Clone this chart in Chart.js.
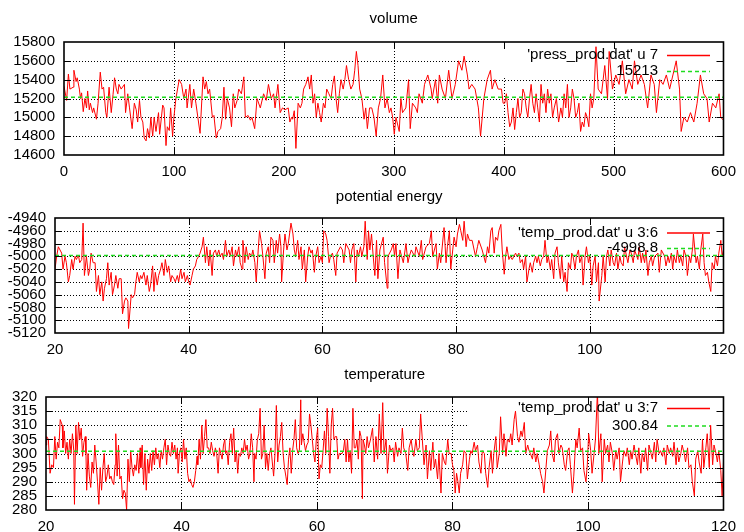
<!DOCTYPE html>
<html><head><meta charset="utf-8">
<script src="https://cdn.jsdelivr.net/npm/chart.js@4.4.0/dist/chart.umd.min.js"></script>
<style>
html,body{margin:0;padding:0;background:#fff;}
body{width:744px;height:532px;position:relative;overflow:hidden;}
canvas{position:absolute;left:0;}
</style></head><body>
<canvas id="c1" width="744" height="180" style="top:0px"></canvas>
<canvas id="c2" width="744" height="180" style="top:180px"></canvas>
<canvas id="c3" width="744" height="172" style="top:360px"></canvas>
<script>
// ---------- data ----------
const titles = ["volume", "potential energy", "temperature"];
const seriesLabels = ["'press_prod.dat' u 7", "'temp_prod.dat' u 3:6", "'temp_prod.dat' u 3:7"];
const means = [15213, -4998.8, 300.84];

const volumeXTicks = [0,100,200,300,400,500,600];
const volumeYTicks = [14600,14800,15000,15200,15400,15600,15800];
const energyXTicks = [20,40,60,80,100,120];
const energyYTicks = [-5120,-5100,-5080,-5060,-5040,-5020,-5000,-4980,-4960,-4940];
const tempXTicks = [20,40,60,80,100,120];
const tempYTicks = [280,285,290,295,300,305,310,315,320];

const volumePoints = [[0,15330],[2.4,15180],[4,15460],[5.4,15300],[8.4,15320],[9,15500],[11,15380],[12,15420],[14,15300],[15,15200],[16,15260],[17.5,15060],[19,15200],[20.5,15100],[21.5,15280],[23,15080],[24,15150],[26,15050],[27,15100],[29.5,14980],[31,15150],[33,15480],[34.6,15300],[36,15320],[38,15050],[39,15000],[41,15320],[43,15050],[44.6,15240],[46,15420],[47.6,15300],[49,15250],[50,15350],[52,15300],[55,15350],[56,15050],[58,15250],[59.6,15100],[62,14880],[64,15150],[65.7,15080],[67,14950],[68.7,15180],[70,15000],[71.7,14950],[73,14780],[74.7,14750],[76,14880],[77.7,14780],[79,15000],[80.7,14800],[82,15000],[83.7,14850],[86,15050],[87,14820],[89.8,15130],[91,15100],[92.8,14700],[94,14900],[95.8,14860],[97,15100],[98.8,14800],[100,15000],
[101.8,15200],[104.8,15400],[107,15350],[109,15200],[111,15300],[112,15100],[114.5,15350],[116,15100],[118,15300],[120,15150],[123.8,14830],[126.5,15430],[128,15300],[129.5,15380],[131,15250],[132.5,15300],[135,15000],[136.4,15020],[138.5,14780],[140,14850],[142.5,14880],[144,15000],[145.5,15320],[147,14980],[148.5,15200],[150.6,15100],[152.4,14900],[154,15250],[155.4,15100],[157.5,15180],[159,15300],[161.4,15250],[163.6,15430],[165,15000],[167.5,15020],[169.6,14970],[171,15000],[173.5,14880],[175.6,15200],[178.6,15100],[181.6,15250],[184,15180],[186,15350],[188.5,15200],[190.7,15250],[192,15100],[194.6,15350],[196.7,15050],[198.8,15100],[201,15080],
[204,15100],[205.5,14950],[207,15000],[208,14980],[209.5,15070],[211,14670],[213,15150],[215,15100],[216.5,15150],[218,15300],[220,15350],[222,15430],[223.5,15300],[225,15450],[226.5,15150],[228,15250],[229.5,15000],[231,15150],[232.5,15050],[234,14950],[236,15150],[237.5,15100],[239,15300],[241,15250],[243,15200],[244.5,15350],[246,15440],[247.5,15200],[249,15050],[250.5,15250],[252,15400],[254,15300],[255.5,15400],[257,15550],[259,15400],[261,15300],[263,15350],[264.5,15500],[266,15700],[267.5,15550],[269,15300],[271,15200],[273,14980],[274.5,15100],[276,14880],[278,15100],
[280,15100],[282,15000],[284,14800],[286,15100],[288,15200],[290,15450],[292,15100],[294,15200],[296,15050],[297.5,15100],[299,15000],[300.5,14820],[302,15000],[305,14850],[306.5,15200],[308,15050],[311,15100],[313.5,15400],[315,14880],[317,15150],[320,15100],[321.5,15050],[323,15250],[326,15150],[328,15350],[331,15450],[334,15300],[335,15200],[338,15400],[340,15150],[341.5,15450],[344,15300],[347,15200],[350,15500],[353,15200],[356,15350],[359,15600],[362,15500],[364,15650],[367,15450],[368.5,15300],[371,15350],[374,15300],[377,15100],[379,14800],[382,15200],[385,15400],[388,15500],[389.5,15300],[392,15400],[395,15300],[398,15300],[399.5,15150],[401,15150],[402.5,15250],[404,15050],[405.5,14900],[407,14950],[408.5,15100],[410,14870],[411.5,15050],[413,15200],[414.5,15000],[416,15050],[417.5,15300],[419,15250],[420.5,15100],[422,15000],[423.5,15200],[425,15350],[426.5,15150],[428,15050],[429.5,15250],[431,15100],[432.5,14950],[434,15350],[435.5,15150],[437,15250],[438.5,15050],[440,15300],[441.5,15150],[443,15250],[444.5,15000],[446,15100],[448,15200],[450,14950],[452,15100],[453.5,15000],[455,15250],[456.5,15100],[458,15350],[459.5,15000],[461,15100],[462.5,15300],[464,15200],[465.5,15000],[467,15050],[468.5,15150],[470,14850],[471.5,14950],[473,14900],[474.5,15050],[476,15000],[477.5,14900],[479,15250],[480.5,15100],[482,15200],[484,15750],[486,15300],[489,15250],[492,15550],[494.5,15200],[496,15700],[499,15300],[502,15450],[505,15350],[508,15600],[511,15250],[514,15400],[517,15300],[519,15600],[522,15350],[525,15450],[528,15350],[531,15100],[534,15450],[537,15350],[539,15050],[542,15400],[545,15350],[548,15450],[551,15300],[554,15450],[557,15600],[560,15300],[561.5,14850],[564,15000],[567,14950],[570,15050],[573,14950],[576,15150],[579,15450],[582,15250],[585,15200],[587,14950],[590,15150],[593,15100],[596,15250],[597.5,15000],[600,14970]];

const energyPoints = [[20,-5020],[20.25,-5000],[20.5,-4985],[20.75,-4990],[21,-4995],[21.2,-5020],[21.5,-5000],[21.7,-5010],[22,-5040],[22.2,-5030],[22.5,-5005],[22.7,-5020],[23,-5000],[23.2,-5005],[23.5,-4998],[23.7,-5010],[24,-5005],[24.2,-4948],[24.4,-5030],[24.7,-5000],[25,-5030],[25.2,-5020],[25.4,-4995],[25.7,-5010],[26,-5010],[26.2,-5055],[26.5,-5030],[26.7,-5060],[27,-5040],[27.2,-5070],[27.4,-5050],[27.7,-5035],[27.9,-5010],[28.1,-5045],[28.4,-5025],[28.6,-5060],[28.9,-5045],[29.1,-5030],[29.4,-5050],[29.6,-5035],[29.9,-5035],[30.1,-5090],[30.4,-5070],[30.6,-5065],[30.9,-5070],[31,-5113],[31.4,-5060],[31.6,-5065],[31.9,-5060],[32.1,-5040],[32.3,-5025],[32.6,-5040],[32.8,-5030],[33,-5035],[33.3,-5025],[33.6,-5045],[33.8,-5030],[34.1,-5055],[34.3,-5045],[34.6,-5015],[34.8,-5055],[35,-5025],[35.3,-5045],[35.5,-5030],[35.8,-5020],[36,-5010],[36.3,-5030],[36.5,-5005],[36.8,-5025],[37,-5015],[37.3,-5040],[37.5,-5030],[37.8,-5035],[38,-5040],[38.3,-5030],[38.5,-5040],[38.8,-5020],[39,-5035],[39.3,-5025],[39.5,-5040],[39.8,-5030],[40,-5040],[40.2,-5045],[40.5,-5030],[40.7,-5020],[41,-5015],[41.2,-5005],[41.5,-5000],[41.7,-4995],[42,-4985],[42.2,-4970],[42.5,-5010],[42.7,-4985],[43,-5015],[43.2,-4990],[43.5,-5030],[43.7,-4995],[44,-4990],[44.2,-5000],[44.5,-4990],[44.7,-5000],[45,-4995],[45.2,-5005],[45.5,-4975],[45.7,-5000],[46,-4990],[46.2,-5000],[46.5,-4985],[46.7,-5015],[47,-4990],[47.2,-5000],[47.5,-4985],[47.7,-5010],[48,-5020],[48.1,-4975],[48.4,-5010],[48.6,-4985],[48.9,-5005],[49.1,-4995],[49.4,-5000],[49.6,-4990],[49.9,-5010],[50.1,-5040],[50.4,-4990],[50.6,-4960],[50.9,-4980],[51.1,-5000],[51.4,-5035],[51.6,-4995],[51.9,-4985],[52.1,-5010],[52.3,-4970],[52.6,-4975],[52.8,-5010],[53.1,-4975],[53.3,-4995],[53.6,-4965],[53.8,-4985],[53.9,-5040],[54.2,-4990],[54.4,-4965],[54.7,-4990],[54.9,-4980],[55.3,-4948],[55.6,-4965],[55.8,-4990],[56,-5000],[56.3,-4975],[56.5,-5005],[56.8,-4985],[57,-5020],[57.3,-4990],[57.5,-5040],[57.8,-5000],[58,-4985],[58.3,-4995],[58.5,-4990],[58.8,-5025],[59,-5000],[59.3,-4985],[59.5,-5010],[59.8,-5000],[60,-5010],[60.2,-4960],[60.5,-4965],[60.7,-4975],[61,-5010],[61.2,-5000],[61.5,-4995],[61.7,-5005],[62,-5030],[62.2,-4995],[62.7,-4985],[63,-4990],[63.2,-5010],[63.5,-4980],[64,-4990],[64.2,-5010],[64.4,-4990],[64.7,-4980],[65,-5040],[65.2,-4990],[65.4,-5000],[65.7,-4985],[65.9,-5000],[66.2,-4985],[66.4,-4945],[66.7,-5005],[66.9,-4960],
[67.1,-4990],[67.35,-4965],[67.6,-5000],[67.85,-5030],[68.1,-4975],[68.3,-5035],[68.6,-4990],[69.1,-4970],[69.3,-5010],[69.7,-5050],[69.8,-5000],[70.3,-4990],[70.6,-4980],[70.8,-5000],[71,-4980],[71.3,-5035],[71.6,-4990],[72.1,-5010],[72.5,-4980],[72.8,-5010],[73,-5000],[73.3,-4990],[73.8,-5000],[74,-4985],[74.5,-5000],[74.8,-4975],[75,-5005],[75.5,-4985],[76,-4980],[76.3,-4960],[76.5,-5000],[77,-4980],[77.2,-5020],[77.5,-4995],[77.7,-5010],[78.2,-4955],[78.5,-5010],[78.7,-4985],[79,-4960],[79.2,-5020],[79.5,-4990],[79.7,-4970],[80,-4985],[80.2,-4965],[80.5,-4950],[80.7,-4960],[81,-4975],[81.2,-4945],[81.5,-4985],[81.7,-4965],[82,-4975],[82.4,-4975],[82.9,-5000],[83.2,-4985],[83.4,-4975],[83.9,-4990],[84.4,-5010],[84.7,-4985],[84.9,-4995],[85.2,-4960],[85.4,-4955],[85.7,-4995],[85.9,-4970],[86.2,-4975],[86.4,-4960],[86.7,-4950],[86.9,-4990],[87.2,-5028],[87.4,-5000],[87.6,-4985],[87.9,-5005],[88.1,-5000],[88.4,-5005],[88.9,-4995],[89.1,-5000],[89.4,-4995],[89.6,-5010],[89.9,-5005],[90.1,-5020],[90.4,-5000],[90.6,-5040],[90.9,-5020],[91.1,-5010],[91.4,-5025],[91.6,-5010],[91.9,-5000],[92.1,-5010],[92.3,-5000],[92.6,-5015],[92.8,-5005],[93.1,-5000],[93.3,-4975],[93.6,-5010],[93.8,-5000],[94.1,-5020],[94.3,-5005],[94.6,-5035],[94.8,-4995],[95.1,-4985],[95.3,-5010],[95.6,-5035],[95.8,-5000],[96.1,-5040],[96.3,-5025],[96.6,-5055],[96.8,-5010],[97.1,-5020],[97.3,-4995],[97.5,-5000],[97.8,-5020],[98,-5000],[98.3,-4990],[98.5,-5010],[98.8,-5000],[99,-5045],[99.3,-5000],[99.5,-4985],[99.8,-5010],[100,-5000],[100.3,-5045],[100.5,-5015],[100.8,-5000],[101,-5040],[101.3,-5010],[101.4,-5070],[101.8,-5030],[102,-5000],[102.3,-5040],[102.5,-5000],[102.7,-4990],[103,-5015],[103.2,-4990],[103.5,-5010],[103.7,-5015],[104,-4995],[104.2,-5020],[104.5,-5000],[104.7,-5010],[105,-5015],[105.2,-4985],[105.7,-5010],[106,-4990],[106.2,-4995],[106.5,-5010],[106.7,-4990],[107.2,-5005],[107.4,-4985],[107.7,-5010],[107.9,-4995],[108.2,-5010],[108.4,-4990],[108.7,-5030],[108.9,-5010],[109.2,-5000],[109.4,-5015],[109.7,-5000],[110.2,-4995],[110.4,-5025],[110.7,-4990],[111.2,-5000],[111.4,-5015],[111.7,-5000],[111.9,-5010],[112.2,-4995],[112.4,-5020],[112.6,-5000],[112.9,-5010],[113.1,-4990],[113.4,-5010],[113.6,-5000],[113.9,-5015],[114.1,-4990],[114.4,-5000],[114.6,-5030],[114.9,-5000],[115.1,-5010],[115.4,-4985],[115.5,-4965],[115.9,-5010],[116.1,-5000],[116.4,-5020],[116.6,-4990],[116.9,-4965],[117.1,-5010],[117.3,-5030],[117.6,-5025],[117.8,-5040],[118.1,-5055],[118.3,-5010],[118.6,-5020],[118.8,-5000],[119.1,-5015],[119.3,-4995],[119.6,-4975],[119.8,-5000],[120,-4990]];

const tempPoints = [[20,303],[20.1,306],[20.35,305],[20.6,293],[20.85,296],[21.1,295],[21.3,306],[21.5,298],[21.7,304],[21.9,302],[22.1,312],[22.4,310],[22.5,302],[22.7,308],[22.9,300],[23.1,304],[23.3,298],[23.5,305],[23.7,300],[23.9,307],[24.1,301],[24.2,282],[24.4,310],[24.6,300],[24.8,311],[25,305],[25.2,309],[25.4,299],[25.6,304],[25.8,306],[25.9,300],[26,287],[26.2,300],[26.4,292],[26.6,288],[26.8,297],[27,293],[27.2,303],[27.4,297],[27.6,290],[27.8,282],[28,295],[28.2,287],[28.4,295],[28.6,300],[28.8,290],[29,292],[29.2,296],[29.4,291],[29.6,292],[29.8,290],[30,289],[30.2,296],[30.3,307],[30.5,292],[30.7,303],[30.9,291],[31.1,292],[31.3,284],[31.5,287],[31.7,286],[31.9,280],[32.1,298],[32.3,290],[32.5,301],[32.7,295],[32.9,292],[33.1,296],[33.3,294],[33.5,300],[33.7,293],[33.9,302],[34,295],[34.2,303],[34.4,289],[34.6,300],[34.8,287],[35,298],[35.2,293],[35.4,300],[35.6,294],[35.8,301],[36,296],[36.2,302],[36.4,298],[36.6,300],[36.8,295],[37,301],[37.2,298],[37.4,302],[37.6,305],[37.8,296],[38,303],[38.2,300],[38.4,299],[38.6,304],[38.8,300],[39,303],[39.2,298],[39.4,302],[39.5,293],[39.7,300],[39.9,302],[40.1,297],[40.3,305],[40.5,298],[40.7,302],[40.9,293],[41.1,290],[41.3,291],[41.5,289],[41.7,288],[41.9,290],[42.1,294],[42.3,299],[42.4,296],[42.6,305],[42.8,298],[43,310],[43.2,300],[43.4,306],[43.6,312],[43.8,302],[44,302],[44.2,300],[44.4,304],[44.6,301],[44.8,299],[45,302],[45.2,300],[45.4,293],[45.6,302],[45.8,300],[46,298],[46.2,303],[46.4,305],[46.5,300],[46.7,301],[46.9,296],[47.1,304],[47.3,307],[47.5,300],[47.7,309],[47.9,297],[48.1,301],[48.3,293],[48.5,300],[48.7,299],[48.9,302],[49.1,300],[49.3,305],[49.5,301],[49.7,303],[49.9,298],[50.1,300],[50.3,307],[50.5,302],[50.7,290],[50.8,300],[51,298],[51.2,305],[51.4,307],[51.6,316],[51.8,298],[52,300],[52.2,310],[52.4,295],[52.6,300],[52.8,294],[53,300],[53.2,302],[53.4,297],[53.6,292],[53.8,300],[54,317],[54.2,297],[54.4,303],[54.6,306],[54.8,311],[55,300],[55.2,295],[55.4,292],[55.6,289],[55.8,298],[56,302],[56.2,293],[56.4,301],[56.6,305],[56.8,312],[57,302],[57.2,300],[57.4,301],[57.6,319],[57.7,303],[57.9,307],[58.1,304],[58.3,301],[58.5,303],[58.7,304],[58.9,314],[59.1,310],[59.3,305],[59.5,300],[59.7,297],[59.9,305],[60.1,309],[60.3,291],[60.5,296],[60.7,295],[60.9,301],[61.1,308],[61.3,300],[61.5,316],[61.7,306],[61.9,293],[62.1,310],[62.3,316],[62.5,305],[62.7,306],[62.9,306],[63.1,298],[63.3,300],[63.5,300],[63.7,300],[63.9,301],[64.1,305],[64.3,297],[64.5,305],[64.7,297],[64.9,301],[65.1,293],[65.3,316],[65.5,302],[65.7,302],[65.9,305],[66.1,298],[66.3,308],[66.5,306],[66.7,284],[66.8,305],[67,303],[67.2,300],[67.4,306],[67.6,302],[67.9,305],
[68.2,309],[68.45,297],[68.7,306],[68.95,298],[69.2,314],[69.45,300],[69.7,318],[69.9,300],[70.2,305],[70.4,293],[70.7,303],[70.9,301],[71.2,302],[71.4,297],[71.6,304],[71.9,299],[72.1,302],[72.4,300],[72.6,309],[72.8,302],[73.1,300],[73.4,294],[73.6,302],[73.9,305],[74.1,301],[74.3,299],[74.6,305],[74.8,301],[75.1,302],[75.3,314],[75.6,303],[75.8,296],[76.1,303],[76.3,291],[76.6,301],[76.8,294],[77.1,304],[77.3,295],[77.5,298],[77.8,291],[78,300],[78.3,286],[78.5,300],[78.8,297],[79,296],[79.3,305],[79.5,300],[79.8,300],[80,296],[80.2,294],[80.4,286],[80.6,293],[80.8,290],[81,286],[81.2,293],[81.5,296],[81.7,301],[82,300],[82.2,291],[82.5,298],[82.7,301],[82.9,300],[83.2,304],[83.4,301],[83.7,303],[83.9,297],[84.2,293],[84.4,301],[84.7,300],[84.9,293],[85.2,288],[85.4,295],[85.7,301],[85.9,293],[86.1,300],[86.4,306],[86.6,295],[86.9,300],[87.1,313],[87.4,300],[87.6,307],[87.9,299],[88.1,305],[88.4,304],[88.6,307],[88.8,303],[89.1,312],[89.3,315],[89.6,306],[89.8,304],[90.1,308],[90.3,306],[90.6,311],[90.8,300],[91.1,303],[91.3,301],[91.5,300],[91.8,298],[92,302],[92.3,297],[92.5,300],[92.8,296],[93,293],[93.3,290],[93.5,286],[93.8,295],[94,301],[94.3,303],[94.5,308],[94.7,300],[95,297],[95.2,305],[95.5,307],[95.7,300],[96,303],[96.2,302],[96.5,296],[96.7,294],[97,301],[97.2,302],[97.4,296],[97.7,286],[97.9,292],[98.2,305],[98.4,302],[98.7,309],[98.9,301],[99.2,302],[99.4,294],[99.7,290],[99.9,296],[100.1,307],[100.4,301],[100.6,293],[100.9,300],[101.1,305],[101.4,322],[101.6,300],[101.9,307],[102.1,290],[102.4,305],[102.6,300],[102.9,303],[103.1,297],[103.3,304],[103.6,300],[103.8,294],[104.1,301],[104.3,298],[104.6,302],[104.8,290],[105.1,297],[105.3,301],[105.6,299],[105.8,302],[106.1,296],[106.3,301],[106.5,298],[106.8,303],[107,300],[107.3,296],[107.5,302],[107.8,293],[108,300],[108.3,297],[108.5,302],[108.8,294],[109,303],[109.3,300],[109.5,298],[109.8,304],[110,297],[110.2,305],[110.5,300],[110.7,301],[111,299],[111.2,302],[111.5,296],[111.7,303],[112,300],[112.2,302],[112.5,299],[112.7,304],[113,296],[113.2,302],[113.4,297],[113.7,300],[113.9,303],[114.2,300],[114.4,297],[114.7,302],[114.9,295],[115.2,296],[115.4,290],[115.7,285],[115.9,298],[116.2,301],[116.4,297],[116.7,293],[116.9,305],[117.1,295],[117.4,302],[117.6,307],[117.9,295],[118.1,310],[118.4,296],[118.6,303],[118.9,300],[119.1,297],[119.3,301],[119.6,294],[119.8,285],[120,297]];

// ---------- drawing ----------
const FONT = '"Liberation Sans", Arial, Helvetica, sans-serif';
Chart.defaults.font.family = FONT;
Chart.defaults.font.size = 15;
Chart.defaults.color = '#000';
const RED = '#ff0000', GREEN = '#1fdc1f';

function gnuplotLook(p) {
  return {
    id: 'gnuplotLook' + p.canvas,
    beforeDatasetsDraw(chart) {
      const {ctx, chartArea: a, scales: {x, y}} = chart;
      ctx.save();
      ctx.strokeStyle = '#000'; ctx.lineWidth = 1; ctx.setLineDash([1, 2]);
      ctx.beginPath();
      p.xTicks.slice(1, -1).forEach(v => {
        const px = Math.round(x.getPixelForValue(v)) + 0.5;
        ctx.moveTo(px, a.top); ctx.lineTo(px, a.bottom);
      });
      p.yTicks.slice(1, -1).forEach(v => {
        const py = Math.round(y.getPixelForValue(v)) + 0.5;
        ctx.moveTo(a.left, py); ctx.lineTo(a.right, py);
      });
      ctx.stroke();
      ctx.setLineDash([]);
      ctx.fillStyle = '#fff';
      ctx.fillRect(p.key[0], a.top + 1, p.key[1] - p.key[0], p.key[2] - a.top - 1);
      ctx.restore();
    },
    afterDatasetsDraw(chart) {
      const {ctx, chartArea: a, scales: {x, y}} = chart;
      ctx.save();
      ctx.strokeStyle = '#000'; ctx.lineWidth = 1; ctx.setLineDash([]);
      ctx.beginPath();
      const T = 7;
      p.xTicks.slice(1, -1).forEach(v => {
        const px = Math.round(x.getPixelForValue(v)) + 0.5;
        ctx.moveTo(px, a.bottom); ctx.lineTo(px, a.bottom - T);
        ctx.moveTo(px, a.top); ctx.lineTo(px, a.top + T);
      });
      p.yTicks.slice(1, -1).forEach(v => {
        const py = Math.round(y.getPixelForValue(v)) + 0.5;
        ctx.moveTo(a.left, py); ctx.lineTo(a.left + T, py);
        ctx.moveTo(a.right, py); ctx.lineTo(a.right - T, py);
      });
      ctx.stroke();
      ctx.lineWidth = 1.6;
      ctx.strokeRect(a.left, a.top, a.right - a.left, a.bottom - a.top);
      // title
      ctx.fillStyle = '#000';
      ctx.font = '15px ' + FONT;
      ctx.textAlign = 'center'; ctx.textBaseline = 'middle';
      ctx.fillText(p.title, (a.left + a.right) / 2, p.titleY);
      // key
      ctx.textAlign = 'right';
      ctx.fillText(p.label, 658, p.keyY[0]);
      ctx.fillText(String(p.mean), 658, p.keyY[1]);
      ctx.lineWidth = 1.3;
      ctx.strokeStyle = RED;
      ctx.beginPath(); ctx.moveTo(667, p.keyY[0] + 0.5); ctx.lineTo(710, p.keyY[0] + 0.5); ctx.stroke();
      ctx.strokeStyle = GREEN; ctx.lineWidth = 1.5; ctx.setLineDash([4, 3]);
      ctx.beginPath(); ctx.moveTo(667, p.keyY[1] + 0.5); ctx.lineTo(710, p.keyY[1] + 0.5); ctx.stroke();
      ctx.restore();
    }
  };
}

function panel(p) {
  const canvas = document.getElementById(p.canvas);
  const H = canvas.height;
  const xMin = p.xTicks[0], xMax = p.xTicks[p.xTicks.length - 1];
  const yMin = p.yTicks[0], yMax = p.yTicks[p.yTicks.length - 1];
  return new Chart(canvas, {
    type: 'line',
    data: {
      datasets: [
        {data: [{x: xMin, y: p.mean}, {x: xMax, y: p.mean}], borderColor: GREEN, borderWidth: 1.5, borderDash: [4, 3], pointRadius: 0},
        {data: p.points.map(q => ({x: q[0], y: q[1]})), borderColor: RED, borderWidth: 1, pointRadius: 0, tension: 0}
      ]
    },
    options: {
      responsive: false, animation: false, events: [],
      layout: {padding: {left: 0, top: p.top, right: 744 - p.right, bottom: 0}},
      plugins: {legend: {display: false}, title: {display: false}, tooltip: {enabled: false}},
      scales: {
        x: {
          type: 'linear', min: xMin, max: xMax,
          afterBuildTicks: s => { s.ticks = p.xTicks.map(v => ({value: v})); },
          afterFit: s => { s.height = H - p.bottom; },
          grid: {display: false, drawTicks: false}, border: {display: false},
          ticks: {color: '#000', padding: 8, maxRotation: 0, autoSkip: false, callback: v => String(v)}
        },
        y: {
          type: 'linear', min: yMin, max: yMax,
          afterBuildTicks: s => { s.ticks = p.yTicks.map(v => ({value: v})); },
          afterFit: s => { s.width = p.left; },
          grid: {display: false, drawTicks: false}, border: {display: false},
          ticks: {color: '#000', padding: 9, autoSkip: false, callback: v => String(v)}
        }
      }
    },
    plugins: [gnuplotLook(p)]
  });
}

panel({canvas: 'c1', title: titles[0], label: seriesLabels[0], mean: means[0], points: volumePoints,
  xTicks: volumeXTicks, yTicks: volumeYTicks, left: 64, right: 728, top: 42, bottom: 155,
  titleY: 19, keyY: [55, 71], key: [479, 719, 77]});
panel({canvas: 'c2', title: titles[1], label: seriesLabels[1], mean: means[1], points: energyPoints,
  xTicks: energyXTicks, yTicks: energyYTicks, left: 55, right: 728, top: 38, bottom: 153,
  titleY: 17, keyY: [52.5, 68], key: [455, 719, 74]});
panel({canvas: 'c3', title: titles[2], label: seriesLabels[2], mean: means[2], points: tempPoints,
  xTicks: tempXTicks, yTicks: tempYTicks, left: 46, right: 728, top: 37, bottom: 150,
  titleY: 15, keyY: [48, 65.5], key: [469, 719, 73]});
</script>
</body></html>
